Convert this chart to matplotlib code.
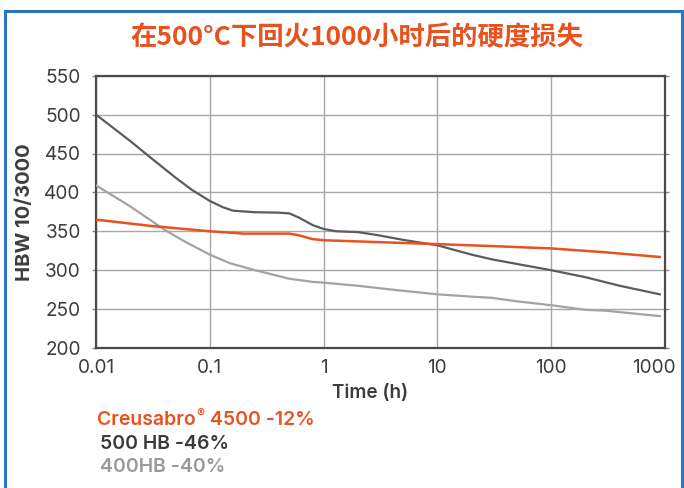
import matplotlib
matplotlib.use("Agg")
import matplotlib.pyplot as plt
from matplotlib.patches import Rectangle
from matplotlib.transforms import ScaledTranslation

# ---- data ----
t_500hb = [0.01, 0.02, 0.03, 0.05, 0.07, 0.1, 0.13, 0.16, 0.25, 0.4, 0.5, 0.6, 0.8, 1.0, 1.3, 2.0, 3.0, 5.0, 10, 20, 30, 50, 100, 200, 400, 900]
v_500hb = [500, 466, 445, 419, 403, 389, 381, 376.5, 374.5, 374, 373, 368, 358, 353, 350, 349, 345, 339, 332, 320, 314, 308, 300, 291, 280, 269]

t_400hb = [0.01, 0.02, 0.04, 0.06, 0.1, 0.15, 0.25, 0.5, 0.8, 1.0, 2, 4, 10, 20, 30, 50, 100, 200, 300, 900]
v_400hb = [409, 382, 352, 337, 320, 309, 300, 289, 285, 284, 280, 275, 269, 266, 264.5, 260, 255, 249, 248, 241]

t_creu = [0.01, 0.03, 0.1, 0.2, 0.5, 0.6, 0.8, 1, 2, 5, 10, 30, 100, 300, 900]
v_creu = [365, 357, 350, 347, 347, 345, 340, 338.5, 337, 335, 333.5, 331, 328, 323, 317]

x_ticks = [0.01, 0.1, 1, 10, 100, 1000]
x_ticklabels = ["0.01", "0.1", "1", "10", "100", "1000"]
y_ticks = [200, 250, 300, 350, 400, 450, 500, 550]

title = "在500°C下回火1000小时后的硬度损失"
ylabel = "HBW 10/3000"
xlabel = "Time (h)"
legend_items = [("Creusabro", " 4500 -12%"), ("500 HB -46%", None), ("400HB -40%", None)]

ORANGE = "#E8521E"
DARK = "#5c5c5c"
LIGHT = "#a3a3a3"
TXT = "#3d3d3d"
BLUE = "#2b74c0"

plt.rcParams['font.family'] = ['Inter', 'DejaVu Sans']

W, H = 684, 488
fig = plt.figure(figsize=(W / 100, H / 100), dpi=100)

# blue frame
fig.patches.append(Rectangle((5 / W, -0.05), (682 - 5) / W, (H - 11) / H + 0.05,
                             transform=fig.transFigure, fill=False,
                             edgecolor=BLUE, linewidth=2.2, zorder=0))

ax = fig.add_axes([96 / W, 1 - 348 / H, (665 - 96) / W, (348 - 75.7) / H])
ax.set_xscale('log')
ax.set_xlim(0.01, 1000)
ax.set_ylim(200, 550)

ax.plot(t_400hb, v_400hb, color=LIGHT, lw=1.6, zorder=3)
ax.plot(t_500hb, v_500hb, color=DARK, lw=1.6, zorder=4)
ax.plot(t_creu, v_creu, color=ORANGE, lw=1.8, zorder=5)

ax.set_xticks(x_ticks)
ax.set_xticklabels(x_ticklabels)
ax.xaxis.set_minor_locator(matplotlib.ticker.NullLocator())
ax.set_yticks(y_ticks)
ax.grid(True, color="#a8a8a8", lw=1.0)
ax.set_axisbelow(True)
for s in ax.spines.values():
    s.set_color("#4a4a4a")
    s.set_linewidth(1.6)
ax.tick_params(axis='both', labelsize=13.7, colors=TXT, length=0, pad=8)
ax.tick_params(axis='y', right=True, length=3, width=1, color="#888888", direction='out')

# shift last x label inward
lbls = ax.get_xticklabels()
lbls[-1].set_transform(lbls[-1].get_transform() + ScaledTranslation(-11 / 100, 0, fig.dpi_scale_trans))

fig.text(357 / W, 1 - 38 / H, title, color=ORANGE, fontsize=19, fontweight='bold',
         ha='center', va='center', family=['Noto Sans CJK SC', 'DejaVu Sans'])
fig.text(25 / W, 1 - 212 / H, ylabel, rotation=90, fontsize=14.5, fontweight='bold',
         color=TXT, ha='center', va='center')
fig.text(370 / W, 1 - 393 / H, xlabel, fontsize=13.6, fontweight='semibold',
         color=TXT, ha='center', va='center')

# legend texts
LFS = 14
renderer = fig.canvas.get_renderer()
t1 = fig.text(97 / W, 1 - 420 / H, legend_items[0][0], fontsize=LFS, fontweight='semibold',
              color=ORANGE, ha='left', va='center')
bb = t1.get_window_extent(renderer)
t_r = fig.text(bb.x1 / W + 1 / W, 1 - 414 / H, "®", fontsize=8.5, fontweight='semibold',
               color=ORANGE, ha='left', va='center')
bb2 = t_r.get_window_extent(renderer)
fig.text(bb2.x1 / W, 1 - 420 / H, legend_items[0][1], fontsize=LFS, fontweight='semibold',
         color=ORANGE, ha='left', va='center')
fig.text(100 / W, 1 - 444 / H, legend_items[1][0], fontsize=LFS, fontweight='semibold',
         color="#3a3a3a", ha='left', va='center')
fig.text(100 / W, 1 - 467 / H, legend_items[2][0], fontsize=LFS, fontweight='semibold',
         color="#9a9a9a", ha='left', va='center')

fig.savefig("out.png", dpi=100)
